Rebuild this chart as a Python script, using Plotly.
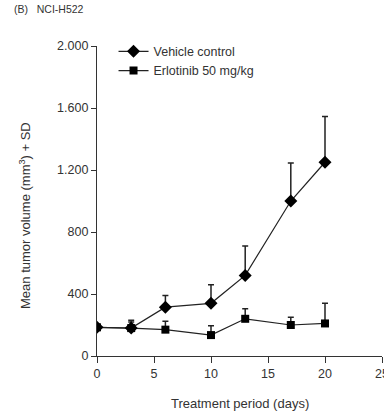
import plotly.graph_objects as go

days = [0, 3, 6, 10, 13, 17, 20]
vehicle_mean = [185, 180, 315, 340, 520, 1000, 1250]
vehicle_sd = [0, 50, 75, 120, 190, 245, 295]
erlo_mean = [185, 180, 170, 135, 240, 200, 210]
erlo_sd = [0, 40, 55, 60, 65, 50, 130]
zeros = [0] * len(days)

y_ticks = [0, 400, 800, 1200, 1600, 2000]
y_ticktext = ["0", "400", "800", "1.200", "1.600", "2.000"]
x_ticks = [0, 5, 10, 15, 20, 25]

FONT = "Liberation Sans, Arial, sans-serif"
TXT = "#333333"

fig = go.Figure()
fig.add_trace(go.Scatter(
    x=days, y=erlo_mean, name="Erlotinib 50 mg/kg", mode="lines+markers",
    line=dict(color="#222222", width=1.2),
    marker=dict(symbol="square", size=8, color="black"),
    error_y=dict(type="data", symmetric=False, array=erlo_sd, arrayminus=zeros,
                 color="#222222", thickness=1.5, width=3),
    legendrank=2,
))
fig.add_trace(go.Scatter(
    x=days, y=vehicle_mean, name="Vehicle control", mode="lines+markers",
    line=dict(color="#222222", width=1.2),
    marker=dict(symbol="diamond", size=10, color="black"),
    error_y=dict(type="data", symmetric=False, array=vehicle_sd, arrayminus=zeros,
                 color="#222222", thickness=1.5, width=3),
    legendrank=1,
))

fig.update_layout(
    width=384, height=412,
    margin=dict(l=97, r=2, t=46, b=56, autoexpand=False),
    paper_bgcolor="white", plot_bgcolor="white",
    font=dict(family=FONT, size=12.5, color=TXT),
    showlegend=True,
    legend=dict(x=0.058, y=1.03, xanchor="left", yanchor="top",
                bgcolor="rgba(0,0,0,0)", font=dict(size=12.5, color=TXT),
                tracegroupgap=0, itemwidth=30),
    xaxis=dict(range=[0, 25], tickvals=x_ticks, showline=True, linecolor="#333333",
               linewidth=1.2, ticks="outside", ticklen=6, tickcolor="#333333",
               showgrid=False, zeroline=False, ticklabeloverflow="allow",
               automargin=False, tickfont=dict(size=12.5, color=TXT)),
    yaxis=dict(range=[0, 2000], tickvals=y_ticks, ticktext=y_ticktext, showline=True,
               linecolor="#333333", linewidth=1.2, ticks="outside", ticklen=5,
               tickcolor="#333333", showgrid=False, zeroline=False,
               automargin=False, tickfont=dict(size=12.5, color=TXT)),
    annotations=[
        dict(text="(B)   NCI-H522", xref="paper", yref="paper",
             x=-0.3, y=1.12, xanchor="left", yanchor="middle",
             showarrow=False, font=dict(size=10.5, color=TXT)),
        dict(text="Treatment period (days)", xref="paper", yref="paper",
             x=(240 - 97) / 285, y=-(403 - 356) / 310, xanchor="center", yanchor="middle",
             showarrow=False, font=dict(size=13, color=TXT)),
        dict(text="Mean tumor volume (mm<sup>3</sup>) + SD", xref="paper", yref="paper",
             x=(25 - 97) / 285, y=(356 - 216) / 310, xanchor="center", yanchor="middle",
             textangle=-90, showarrow=False, font=dict(size=13, color=TXT)),
    ],
)

fig.write_html("out.html")
